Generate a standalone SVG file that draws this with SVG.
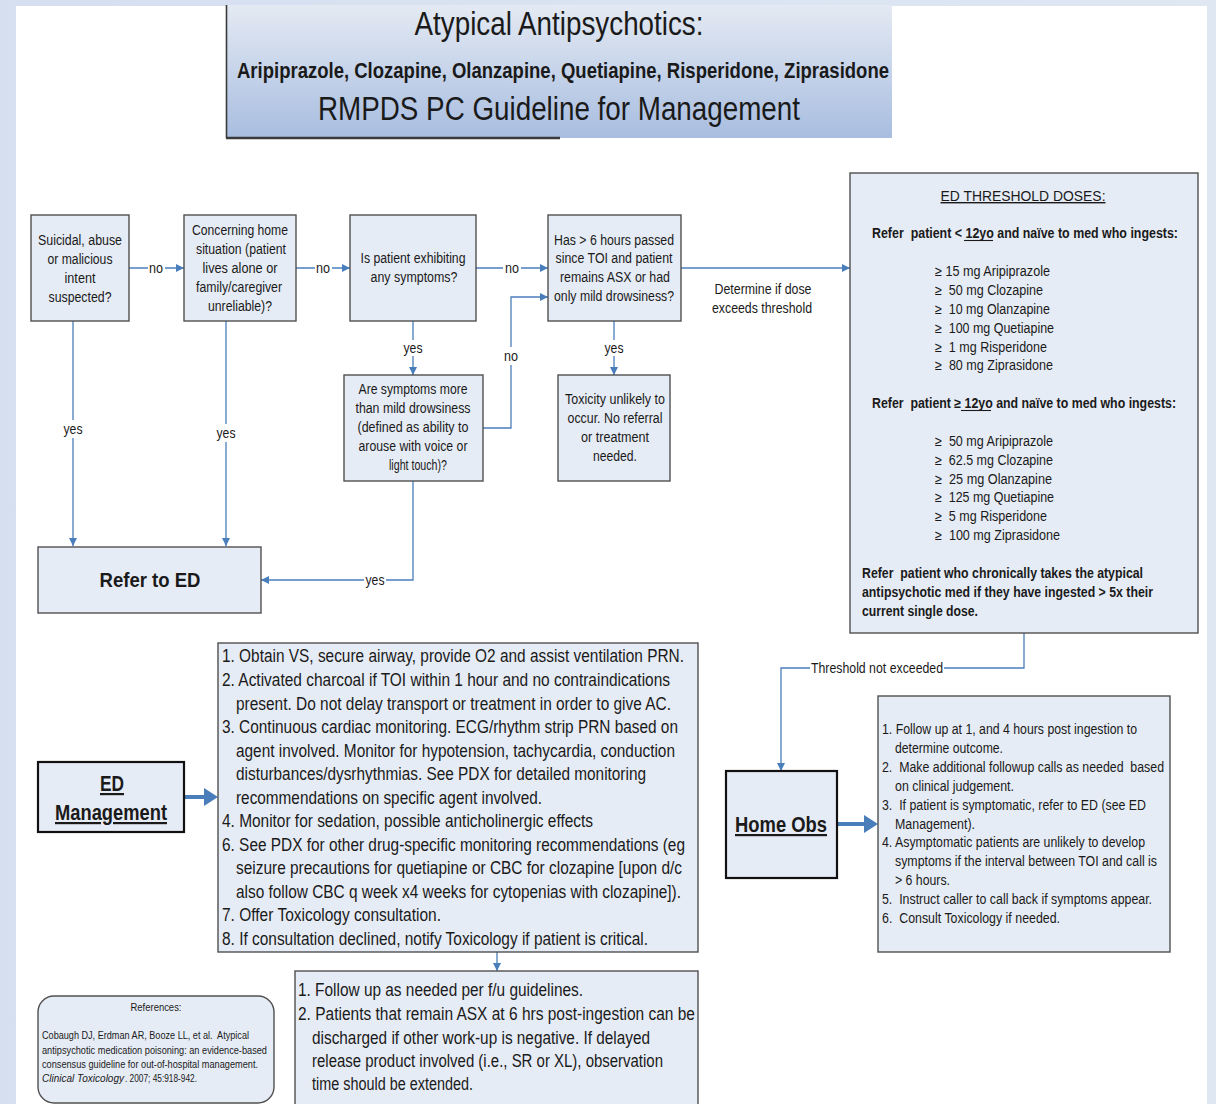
<svg xmlns="http://www.w3.org/2000/svg" width="1216" height="1104" viewBox="0 0 1216 1104">
<defs>
<linearGradient id="bg" x1="0" y1="0" x2="1" y2="0">
<stop offset="0" stop-color="#d5dff0"/>
<stop offset="1" stop-color="#dfe7f3"/>
</linearGradient>
<linearGradient id="tg" x1="0" y1="0" x2="0" y2="1">
<stop offset="0" stop-color="#e4eaf3"/>
<stop offset="1" stop-color="#a8bde0"/>
</linearGradient>
<marker id="ah" viewBox="0 0 10 10" refX="10" refY="5" markerWidth="8" markerHeight="8" markerUnits="userSpaceOnUse" orient="auto">
<path d="M0,0 L10,5 L0,10 Z" fill="#4a7ebb"/>
</marker>
<style>
.bx{fill:#e6ecf5;stroke:#505050;stroke-width:1.4}
.bk{fill:#e6ecf5;stroke:#111;stroke-width:2.2}
.ca{fill:none;stroke:#4a7ebb;stroke-width:1.3;marker-end:url(#ah)}
.tk{fill:none;stroke:#4a7ebb;stroke-width:4}
.hd{fill:#4a7ebb}
.ul{stroke:#1a1a1a;stroke-width:1.1}
text{font-family:"Liberation Sans Narrow","Arial Narrow","Liberation Sans",Arial,sans-serif;fill:#1a1a1a;white-space:pre}
.t14{font-size:14px}
.c{text-anchor:middle}
.lb{font-size:14px;text-anchor:middle}
.b{font-weight:bold}
.ed{font-size:17.5px}
.sm{font-size:10.5px}
.lbl{fill:#fff}
</style>
</defs>
<rect x="0" y="0" width="1216" height="1104" fill="url(#bg)"/>
<rect x="16" y="6" width="1191" height="1098" fill="#ffffff"/>

<g id="title">
<rect x="226" y="5" width="666" height="133" fill="url(#tg)"/>
<line x1="226.5" y1="5" x2="226.5" y2="138" stroke="#3a3a3a" stroke-width="1.6"/>
<line x1="226" y1="138" x2="560" y2="138" stroke="#3a3a3a" stroke-width="2.4"/>
<text x="559" y="35" class="c" style="font-size:34px" textLength="289" lengthAdjust="spacingAndGlyphs">Atypical Antipsychotics:</text>
<text x="563" y="78" class="c b" style="font-size:22px" textLength="652" lengthAdjust="spacingAndGlyphs">Aripiprazole, Clozapine, Olanzapine, Quetiapine, Risperidone, Ziprasidone</text>
<text x="559" y="120" class="c" style="font-size:34px" textLength="482" lengthAdjust="spacingAndGlyphs">RMPDS PC Guideline for Management</text>
</g>

<g id="connectors">
<line x1="129" y1="268" x2="184" y2="268" class="ca"/>
<line x1="296" y1="268" x2="350" y2="268" class="ca"/>
<line x1="476" y1="268" x2="548" y2="268" class="ca"/>
<line x1="681" y1="268" x2="850" y2="268" class="ca"/>
<line x1="413" y1="321" x2="413" y2="375" class="ca"/>
<polyline points="483,428 511,428 511,297 548,297" class="ca"/>
<line x1="614" y1="321" x2="614" y2="375" class="ca"/>
<line x1="73" y1="321" x2="73" y2="546" class="ca"/>
<line x1="226" y1="321" x2="226" y2="546" class="ca"/>
<polyline points="413,481 413,580 261,580" class="ca"/>
<polyline points="1024,633 1024,668 781,668 781,771" class="ca"/>
<line x1="497" y1="952" x2="497" y2="971" class="ca"/>
<line x1="184" y1="797" x2="206" y2="797" class="tk"/>
<polygon points="204,788 218,797 204,806" class="hd"/>
<line x1="837" y1="824" x2="866" y2="824" class="tk"/>
<polygon points="864,815 878,824 864,833" class="hd"/>
<g>
<rect x="148" y="259" width="17" height="16" class="lbl"/>
<text x="156" y="273" class="lb" textLength="14" lengthAdjust="spacingAndGlyphs">no</text>
<rect x="315" y="259" width="17" height="16" class="lbl"/>
<text x="323" y="273" class="lb" textLength="14" lengthAdjust="spacingAndGlyphs">no</text>
<rect x="503" y="259" width="18" height="16" class="lbl"/>
<text x="512" y="273" class="lb" textLength="14" lengthAdjust="spacingAndGlyphs">no</text>
<text x="763" y="294" class="lb" textLength="97" lengthAdjust="spacingAndGlyphs">Determine if dose</text>
<text x="762" y="313" class="lb" textLength="100" lengthAdjust="spacingAndGlyphs">exceeds threshold</text>
<rect x="402" y="340" width="22" height="16" class="lbl"/>
<text x="413" y="353" class="lb" textLength="19" lengthAdjust="spacingAndGlyphs">yes</text>
<rect x="502" y="347" width="18" height="18" class="lbl"/>
<text x="511" y="361" class="lb" textLength="14" lengthAdjust="spacingAndGlyphs">no</text>
<rect x="603" y="340" width="22" height="16" class="lbl"/>
<text x="614" y="353" class="lb" textLength="19" lengthAdjust="spacingAndGlyphs">yes</text>
<rect x="62" y="420" width="22" height="18" class="lbl"/>
<text x="73" y="434" class="lb" textLength="19" lengthAdjust="spacingAndGlyphs">yes</text>
<rect x="215" y="424" width="22" height="18" class="lbl"/>
<text x="226" y="438" class="lb" textLength="19" lengthAdjust="spacingAndGlyphs">yes</text>
<rect x="364" y="572" width="22" height="16" class="lbl"/>
<text x="375" y="585" class="lb" textLength="19" lengthAdjust="spacingAndGlyphs">yes</text>
<rect x="810" y="660" width="134" height="16" class="lbl"/>
<text x="877" y="673" class="lb" textLength="132" lengthAdjust="spacingAndGlyphs">Threshold not exceeded</text>
</g>
</g>

<g id="n-suicidal" class="t14 c">
<rect x="31" y="215" width="98" height="106" class="bx"/>
<text x="80" y="245" textLength="84" lengthAdjust="spacingAndGlyphs">Suicidal, abuse</text>
<text x="80" y="264" textLength="65" lengthAdjust="spacingAndGlyphs">or malicious</text>
<text x="80" y="283" textLength="31" lengthAdjust="spacingAndGlyphs">intent</text>
<text x="80" y="302" textLength="63" lengthAdjust="spacingAndGlyphs">suspected?</text>
</g>
<g id="n-home" class="t14 c">
<rect x="184" y="215" width="112" height="106" class="bx"/>
<text x="240" y="235" textLength="96" lengthAdjust="spacingAndGlyphs">Concerning home</text>
<text x="241" y="254" textLength="90" lengthAdjust="spacingAndGlyphs">situation (patient</text>
<text x="240" y="273" textLength="75" lengthAdjust="spacingAndGlyphs">lives alone or</text>
<text x="239" y="292" textLength="86" lengthAdjust="spacingAndGlyphs">family/caregiver</text>
<text x="240" y="311" textLength="64" lengthAdjust="spacingAndGlyphs">unreliable)?</text>
</g>
<g id="n-symptoms" class="t14 c">
<rect x="350" y="215" width="126" height="106" class="bx"/>
<text x="413" y="263" textLength="105" lengthAdjust="spacingAndGlyphs">Is patient exhibiting</text>
<text x="414" y="282" textLength="87" lengthAdjust="spacingAndGlyphs">any symptoms?</text>
</g>
<g id="n-6hours" class="t14 c">
<rect x="548" y="215" width="133" height="106" class="bx"/>
<text x="614" y="245" textLength="120" lengthAdjust="spacingAndGlyphs">Has &gt; 6 hours passed</text>
<text x="614" y="263" textLength="117" lengthAdjust="spacingAndGlyphs">since TOI and patient</text>
<text x="615" y="282" textLength="110" lengthAdjust="spacingAndGlyphs">remains ASX or had</text>
<text x="614" y="301" textLength="120" lengthAdjust="spacingAndGlyphs">only mild drowsiness?</text>
</g>
<g id="n-more" class="t14 c">
<rect x="344" y="375" width="139" height="106" class="bx"/>
<text x="413" y="394" textLength="109" lengthAdjust="spacingAndGlyphs">Are symptoms more</text>
<text x="413" y="413" textLength="115" lengthAdjust="spacingAndGlyphs">than mild drowsiness</text>
<text x="413" y="432" textLength="111" lengthAdjust="spacingAndGlyphs">(defined as ability to</text>
<text x="413" y="451" textLength="109" lengthAdjust="spacingAndGlyphs">arouse with voice or</text>
<text x="418" y="470" textLength="58" lengthAdjust="spacingAndGlyphs">light touch)?</text>
</g>
<g id="n-unlikely" class="t14 c">
<rect x="558" y="375" width="112" height="106" class="bx"/>
<text x="615" y="404" textLength="100" lengthAdjust="spacingAndGlyphs">Toxicity unlikely to</text>
<text x="615" y="423" textLength="95" lengthAdjust="spacingAndGlyphs">occur. No referral</text>
<text x="615" y="442" textLength="68" lengthAdjust="spacingAndGlyphs">or treatment</text>
<text x="615" y="461" textLength="44" lengthAdjust="spacingAndGlyphs">needed.</text>
</g>
<g id="n-refer">
<rect x="38" y="547" width="223" height="66" class="bx"/>
<text x="150" y="587" class="c b" style="font-size:21px" textLength="101" lengthAdjust="spacingAndGlyphs">Refer to ED</text>
</g>

<g id="n-threshold" class="t14">
<rect x="850" y="173" width="348" height="460" class="bx"/>
<text x="1023" y="201" class="c" text-decoration="underline" textLength="165" lengthAdjust="spacingAndGlyphs">ED THRESHOLD DOSES:</text>
<text x="872" y="238" class="b" textLength="306" lengthAdjust="spacingAndGlyphs">Refer  patient &lt; 12yo and naïve to med who ingests:</text>
<line x1="964" y1="240.5" x2="993" y2="240.5" class="ul"/>
<text x="935" y="276" textLength="115" lengthAdjust="spacingAndGlyphs">≥ 15 mg Aripiprazole</text>
<text x="935" y="295" textLength="108" lengthAdjust="spacingAndGlyphs">≥  50 mg Clozapine</text>
<text x="935" y="314" textLength="115" lengthAdjust="spacingAndGlyphs">≥  10 mg Olanzapine</text>
<text x="935" y="333" textLength="119" lengthAdjust="spacingAndGlyphs">≥  100 mg Quetiapine</text>
<text x="935" y="352" textLength="112" lengthAdjust="spacingAndGlyphs">≥  1 mg Risperidone</text>
<text x="935" y="370" textLength="118" lengthAdjust="spacingAndGlyphs">≥  80 mg Ziprasidone</text>
<text x="872" y="408" class="b" textLength="304" lengthAdjust="spacingAndGlyphs">Refer  patient ≥ 12yo and naïve to med who ingests:</text>
<line x1="961" y1="410.5" x2="991" y2="410.5" class="ul"/>
<text x="935" y="446" textLength="118" lengthAdjust="spacingAndGlyphs">≥  50 mg Aripiprazole</text>
<text x="935" y="465" textLength="118" lengthAdjust="spacingAndGlyphs">≥  62.5 mg Clozapine</text>
<text x="935" y="484" textLength="117" lengthAdjust="spacingAndGlyphs">≥  25 mg Olanzapine</text>
<text x="935" y="502" textLength="119" lengthAdjust="spacingAndGlyphs">≥  125 mg Quetiapine</text>
<text x="935" y="521" textLength="112" lengthAdjust="spacingAndGlyphs">≥  5 mg Risperidone</text>
<text x="935" y="540" textLength="125" lengthAdjust="spacingAndGlyphs">≥  100 mg Ziprasidone</text>
<text x="862" y="578" class="b" textLength="281" lengthAdjust="spacingAndGlyphs">Refer  patient who chronically takes the atypical</text>
<text x="862" y="597" class="b" textLength="291" lengthAdjust="spacingAndGlyphs">antipsychotic med if they have ingested &gt; 5x their</text>
<text x="862" y="616" class="b" textLength="116" lengthAdjust="spacingAndGlyphs">current single dose.</text>
</g>

<g id="n-edmgmt">
<rect x="38" y="762" width="146" height="70" class="bk"/>
<text x="112" y="791" class="c b" style="font-size:22px" text-decoration="underline" textLength="24" lengthAdjust="spacingAndGlyphs">ED</text>
<text x="111" y="820" class="c b" style="font-size:22px" text-decoration="underline" textLength="112" lengthAdjust="spacingAndGlyphs">Management</text>
</g>
<g id="n-edsteps" class="ed">
<rect x="218" y="643" width="480" height="309" class="bx"/>
<text x="222" y="662" textLength="462" lengthAdjust="spacingAndGlyphs">1. Obtain VS, secure airway, provide O2 and assist ventilation PRN.</text>
<text x="222" y="686" textLength="448" lengthAdjust="spacingAndGlyphs">2. Activated charcoal if TOI within 1 hour and no contraindications</text>
<text x="236" y="710" textLength="435" lengthAdjust="spacingAndGlyphs">present. Do not delay transport or treatment in order to give AC.</text>
<text x="222" y="733" textLength="456" lengthAdjust="spacingAndGlyphs">3. Continuous cardiac monitoring. ECG/rhythm strip PRN based on</text>
<text x="236" y="757" textLength="439" lengthAdjust="spacingAndGlyphs">agent involved. Monitor for hypotension, tachycardia, conduction</text>
<text x="236" y="780" textLength="410" lengthAdjust="spacingAndGlyphs">disturbances/dysrhythmias. See PDX for detailed monitoring</text>
<text x="236" y="804" textLength="306" lengthAdjust="spacingAndGlyphs">recommendations on specific agent involved.</text>
<text x="222" y="827" textLength="371" lengthAdjust="spacingAndGlyphs">4. Monitor for sedation, possible anticholinergic effects</text>
<text x="222" y="851" textLength="463" lengthAdjust="spacingAndGlyphs">6. See PDX for other drug-specific monitoring recommendations (eg</text>
<text x="236" y="874" textLength="446" lengthAdjust="spacingAndGlyphs">seizure precautions for quetiapine or CBC for clozapine [upon d/c</text>
<text x="236" y="898" textLength="445" lengthAdjust="spacingAndGlyphs">also follow CBC q week x4 weeks for cytopenias with clozapine]).</text>
<text x="222" y="921" textLength="219" lengthAdjust="spacingAndGlyphs">7. Offer Toxicology consultation.</text>
<text x="222" y="945" textLength="426" lengthAdjust="spacingAndGlyphs">8. If consultation declined, notify Toxicology if patient is critical.</text>
</g>
<g id="n-followup" class="ed">
<rect x="295" y="971" width="403" height="140" class="bx"/>
<text x="298" y="996" textLength="285" lengthAdjust="spacingAndGlyphs">1. Follow up as needed per f/u guidelines.</text>
<text x="298" y="1020" textLength="397" lengthAdjust="spacingAndGlyphs">2. Patients that remain ASX at 6 hrs post-ingestion can be</text>
<text x="312" y="1044" textLength="338" lengthAdjust="spacingAndGlyphs">discharged if other work-up is negative. If delayed</text>
<text x="312" y="1067" textLength="351" lengthAdjust="spacingAndGlyphs">release product involved (i.e., SR or XL), observation</text>
<text x="312" y="1090" textLength="161" lengthAdjust="spacingAndGlyphs">time should be extended.</text>
</g>

<g id="n-homeobs">
<rect x="726" y="771" width="111" height="107" class="bk"/>
<text x="781" y="832" class="c b" style="font-size:22px" text-decoration="underline" textLength="92" lengthAdjust="spacingAndGlyphs">Home Obs</text>
</g>
<g id="n-homesteps" class="t14">
<rect x="878" y="696" width="292" height="256" class="bx"/>
<text x="882" y="734" textLength="255" lengthAdjust="spacingAndGlyphs">1. Follow up at 1, and 4 hours post ingestion to</text>
<text x="895" y="753" textLength="108" lengthAdjust="spacingAndGlyphs">determine outcome.</text>
<text x="882" y="772" textLength="282" lengthAdjust="spacingAndGlyphs">2.  Make additional followup calls as needed  based</text>
<text x="895" y="791" textLength="119" lengthAdjust="spacingAndGlyphs">on clinical judgement.</text>
<text x="882" y="810" textLength="264" lengthAdjust="spacingAndGlyphs">3.  If patient is symptomatic, refer to ED (see ED</text>
<text x="895" y="829" textLength="80" lengthAdjust="spacingAndGlyphs">Management).</text>
<text x="882" y="847" textLength="263" lengthAdjust="spacingAndGlyphs">4. Asymptomatic patients are unlikely to develop</text>
<text x="895" y="866" textLength="262" lengthAdjust="spacingAndGlyphs">symptoms if the interval between TOI and call is</text>
<text x="895" y="885" textLength="55" lengthAdjust="spacingAndGlyphs">&gt; 6 hours.</text>
<text x="882" y="904" textLength="270" lengthAdjust="spacingAndGlyphs">5.  Instruct caller to call back if symptoms appear.</text>
<text x="882" y="923" textLength="178" lengthAdjust="spacingAndGlyphs">6.  Consult Toxicology if needed.</text>
</g>

<g id="n-refs" class="sm">
<rect x="38" y="996" width="236" height="107" rx="16" ry="16" class="bx"/>
<text x="156" y="1011" class="c" textLength="51" lengthAdjust="spacingAndGlyphs">References:</text>
<text x="42" y="1039" textLength="207" lengthAdjust="spacingAndGlyphs">Cobaugh DJ, Erdman AR, Booze LL, et al.  Atypical</text>
<text x="42" y="1054" textLength="225" lengthAdjust="spacingAndGlyphs">antipsychotic medication poisoning: an evidence-based</text>
<text x="42" y="1068" textLength="216" lengthAdjust="spacingAndGlyphs">consensus guideline for out-of-hospital management.</text>
<text x="42" y="1082" font-style="italic" textLength="82" lengthAdjust="spacingAndGlyphs">Clinical Toxicology</text>
<text x="125" y="1082" textLength="72" lengthAdjust="spacingAndGlyphs">. 2007; 45:918-942.</text>
</g>
</svg>
